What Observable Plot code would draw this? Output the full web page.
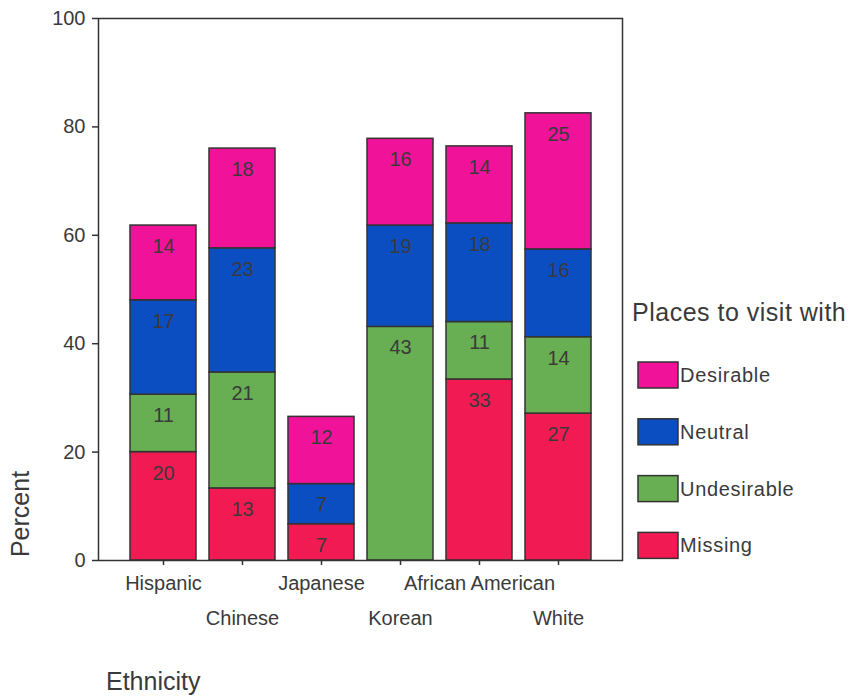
<!DOCTYPE html>
<html>
<head>
<meta charset="utf-8">
<script src="https://cdn.jsdelivr.net/npm/d3@7"></script>
<script src="https://cdn.jsdelivr.net/npm/@observablehq/plot@0.6"></script>
<style>
  html, body { margin: 0; padding: 0; background: #ffffff; }
  #chart { position: relative; width: 850px; height: 696px; }
  svg { font-family: Arial, "Liberation Sans", sans-serif; }
</style>
</head>
<body>
<div id="chart"></div>
<script>
// ---- data ----
const ethnicities = ["Hispanic", "Chinese", "Japanese", "Korean", "African American", "White"];
const responses = ["Missing", "Undesirable", "Neutral", "Desirable"]; // stacking order, bottom to top
const legendOrder = ["Desirable", "Neutral", "Undesirable", "Missing"];
const missing     = [20.0, 13.3, 6.7,  0,    33.4, 27.1];
const undesirable = [10.6, 21.4, 0,    43.1, 10.6, 14.1];
const neutral     = [17.4, 22.9, 7.4,  18.7, 18.2, 16.2];
const desirable   = [13.8, 18.4, 12.4, 16.0, 14.2, 25.1];
const responseColors = ["#F21A52", "#67AF52", "#0B4EC2", "#F0139A"];
const yTicks = [0, 20, 40, 60, 80, 100];
const xTicksRow1 = ["Hispanic", "Japanese", "African American"];
const xTicksRow2 = ["Chinese", "Korean", "White"];
const yTitle = "Percent";
const xTitle = "Ethnicity";
const legendTitle = "Places to visit with";

const series = [missing, undesirable, neutral, desirable];
const data = [];
ethnicities.forEach((e, i) => {
  series.forEach((arr, j) => data.push({ethnicity: e, response: responses[j], value: arr[i]}));
});
const shown = data.filter(d => d.value > 0);

const ink = "#3a3a3a";
const fs = 20;
const ls = "0.7px";
const chart = Plot.plot({
  width: 850,
  height: 696,
  marginLeft: 98,
  marginRight: 228,
  marginTop: 18,
  marginBottom: 136,
  style: {fontFamily: "Arial, 'Liberation Sans', sans-serif", fontSize: fs + "px", color: ink, background: "transparent", overflow: "visible"},
  x: {domain: ethnicities, padding: 0.159, insetLeft: 19, insetRight: 18, label: null},
  y: {domain: [0, 100], label: null},
  color: {domain: responses, range: responseColors},
  marks: [
    Plot.barY(shown, {x: "ethnicity", y: "value", z: "response", order: responses, fill: "response", stroke: "#333", strokeWidth: 1.5}),
    Plot.text(shown, Plot.stackY2({x: "ethnicity", y: "value", z: "response", order: responses,
      text: d => Math.round(d.value), dy: 21, fill: ink, fontSize: fs, letterSpacing: ls})),
    Plot.axisY(yTicks, {tickSize: 6, tickPadding: 7, label: null, stroke: "#333", strokeWidth: 1.5, fill: ink, fontSize: fs, letterSpacing: ls}),
    Plot.axisX(xTicksRow1, {tickSize: 5, tickPadding: 10, label: null, stroke: "#333", strokeWidth: 1.5, fill: ink, fontSize: fs, letterSpacing: ls}),
    Plot.axisX(xTicksRow2, {tickSize: 5, tickPadding: 45, label: null, stroke: "#333", strokeWidth: 1.5, fill: ink, fontSize: fs, letterSpacing: ls}),
    Plot.frame({stroke: "#333", strokeWidth: 1.5})
  ]
});

const svg = d3.select(chart);
// axis titles
svg.append("text")
  .attr("transform", "translate(20,514) rotate(-90)")
  .attr("text-anchor", "middle").attr("dy", "0.35em")
  .attr("font-size", 25).attr("fill", ink)
  .text(yTitle);
svg.append("text")
  .attr("x", 106).attr("y", 690)
  .attr("text-anchor", "start")
  .attr("font-size", 25).attr("fill", ink)
  .text(xTitle);

// legend (colors taken from the Plot color scale)
const colorScale = chart.scale("color");
const colorOf = r => colorScale.range[colorScale.domain.indexOf(r)];
const lg = svg.append("g").attr("text-anchor", "start");
lg.append("text")
  .attr("x", 632).attr("y", 321)
  .attr("font-size", 25).attr("letter-spacing", "0.5px").attr("fill", ink)
  .text(legendTitle);
legendOrder.forEach((r, i) => {
  const top = 362 + i * 56.8;
  lg.append("rect")
    .attr("x", 638).attr("y", top).attr("width", 40).attr("height", 26)
    .attr("fill", colorOf(r)).attr("stroke", "#333").attr("stroke-width", 1.5);
  lg.append("text")
    .attr("x", 680).attr("y", top + 13).attr("dy", "0.35em")
    .attr("font-size", fs).attr("letter-spacing", ls).attr("fill", ink)
    .text(r);
});

document.getElementById("chart").appendChild(chart);
</script>
</body>
</html>
